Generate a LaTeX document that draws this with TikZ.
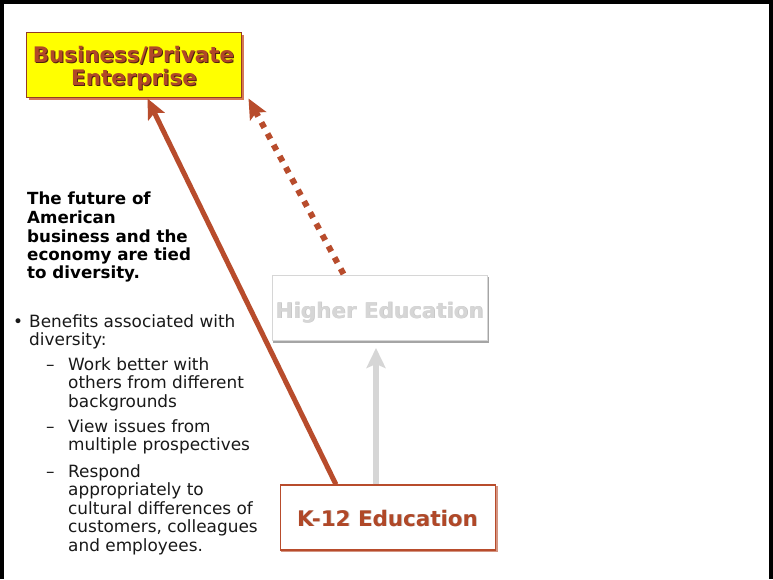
\documentclass[tikz,border=0pt]{standalone}
\usepackage{fontspec}
\setmainfont{DejaVu Sans}
\usetikzlibrary{arrows.meta,calc}
\definecolor{rust}{RGB}{184,76,44}
\definecolor{rusttext}{RGB}{176,72,40}
\definecolor{rustshadow}{RGB}{80,34,14}
\definecolor{rustboxshadow}{RGB}{214,120,84}
\definecolor{lgray}{RGB}{214,214,214}
\definecolor{lgraytext}{RGB}{214,214,214}
\definecolor{lgrayshadow}{RGB}{196,196,196}
\definecolor{boxshadowgray}{RGB}{165,165,165}
\definecolor{bizyellow}{RGB}{255,255,0}
\tikzset{
  boxbase/.style={rectangle, inner sep=0pt, minimum width=215pt, minimum height=65pt},
  bizbox/.style={boxbase, fill=bizyellow, draw=rust!80!black, line width=1pt},
  hebox/.style={boxbase, fill=white, draw=lgray, line width=1pt},
  kbox/.style={boxbase, fill=white, draw=rust, line width=1.2pt},
  boxtitle/.style={font=\bfseries\fontsize{21.4}{23}\selectfont, inner sep=0pt, anchor=base},
  boldline/.style={font=\bfseries\fontsize{16.7}{19}\selectfont, inner sep=0pt, anchor=base west, text=black},
  bodyline/.style={font=\fontsize{16.9}{19}\selectfont, inner sep=0pt, anchor=base west, text=black!90},
  solidarrow/.style={rust, line width=5pt, -{Stealth[length=20pt,width=18pt,inset=4pt]}},
  dotarrow/.style={rust, line width=6pt, dash pattern=on 6pt off 6.8pt, -{Stealth[length=20pt,width=18pt,inset=4pt]}},
  grayarrow/.style={lgray, line width=6pt, -{Stealth[length=20pt,width=19pt,inset=4pt]}},
}
\begin{document}
\begin{tikzpicture}[x=1pt,y=-1pt]
\useasboundingbox (0,0) rectangle (773,579);
\fill[white] (0,0) rectangle (773,579);
% frame (left, top, right)
\draw[black, line width=4pt] (2,579) -- (2,1.5) -- (770.5,1.5) -- (770.5,579);

% box shadows
\fill[rustboxshadow] (28.5,34.5) rectangle (243.5,99.5);
\fill[boxshadowgray] (273,277) rectangle (489,342.5);
\fill[rust!60] (281,486) rectangle (497.5,552);

% boxes
\node[bizbox] (biz) at (133.5,64.5) {};
\node[hebox] (he) at (379.5,308) {};
\node[kbox] (k12) at (388,517.5) {};

% box titles
\node[boxtitle, text=rustshadow] (bizAs) at (134.5,63) {Business/Private};
\node[boxtitle, text=rusttext] (bizA) at (133.5,62) {Business/Private};
\node[boxtitle, text=rustshadow] (bizBs) at (135,86) {Enterprise};
\node[boxtitle, text=rusttext] (bizB) at (134,85) {Enterprise};
\node[boxtitle, text=lgrayshadow] (hets) at (380.2,318.7) {Higher Education};
\node[boxtitle, text=lgraytext] (het) at (379.5,318) {Higher Education};
\node[boxtitle, text=black!22] (k12ts) at (388.3,526.8) {K-12 Education};
\node[boxtitle, text=rusttext] (k12t) at (387.5,526) {K-12 Education};

% connectors
\draw[solidarrow] ($(k12.north west)+(56,0)$) -- ($(biz.south west)+(122,1)$);
\draw[dotarrow] ($(he.north west)+(72,-1)$) -- ($(biz.south east)+(7,1)$);
\draw[grayarrow] ($(k12.north)+(-12,0)$) -- ($(he.south)+(-3.5,7)$);

% left text
\node[boldline] (t1) at (27,204) {The future of};
\node[boldline] (t2) at (27,223) {American};
\node[boldline] (t3) at (27,242) {business and the};
\node[boldline] (t4) at (27,260) {economy are tied};
\node[boldline] (t5) at (27,278) {to diversity.};

\node[bodyline] (b0) at (13,327) {•};
\node[bodyline] (b1) at (29,327) {Benefits associated with};
\node[bodyline] (b2) at (29,345) {diversity:};

\node[bodyline] (d1) at (46,370) {–};
\node[bodyline] (s1a) at (68,370) {Work better with};
\node[bodyline] (s1b) at (68,388) {others from different};
\node[bodyline] (s1c) at (68,407) {backgrounds};

\node[bodyline] (d2) at (46,432) {–};
\node[bodyline] (s2a) at (68,432) {View issues from};
\node[bodyline] (s2b) at (68,450) {multiple prospectives};

\node[bodyline] (d3) at (46,477) {–};
\node[bodyline] (s3a) at (68,477) {Respond};
\node[bodyline] (s3b) at (68,495) {appropriately to};
\node[bodyline] (s3c) at (68,514) {cultural differences of};
\node[bodyline] (s3d) at (68,532) {customers, colleagues};
\node[bodyline] (s3e) at (68,551) {and employees.};
\end{tikzpicture}
\end{document}
